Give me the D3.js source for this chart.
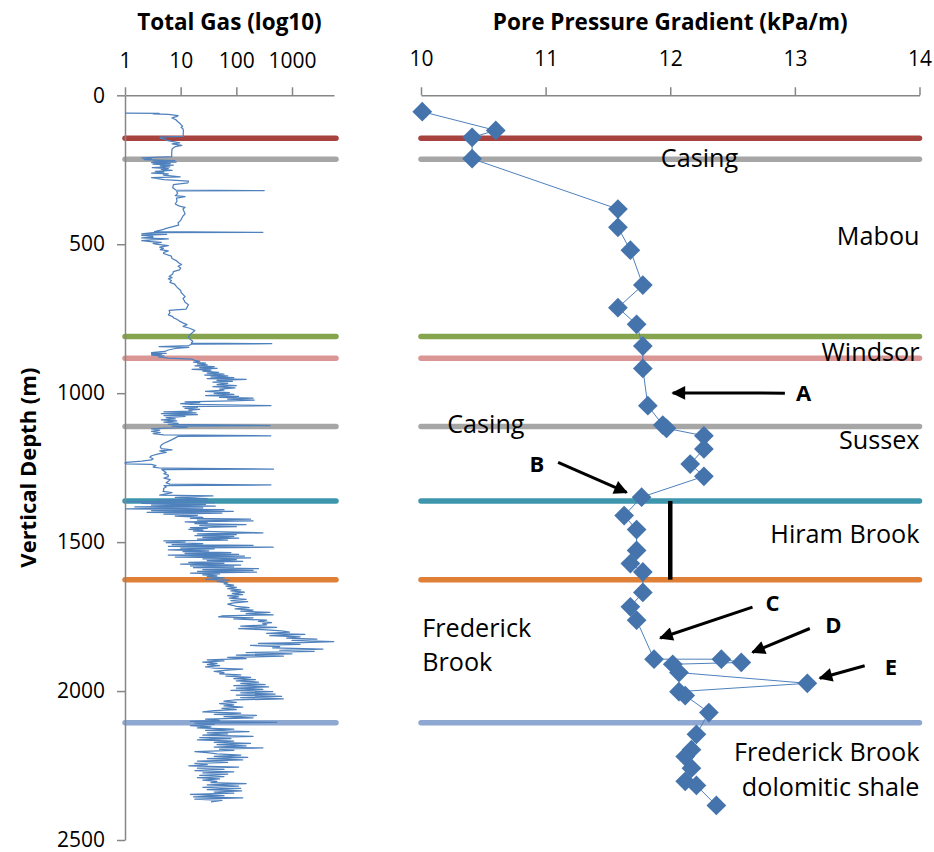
<!DOCTYPE html>
<html>
<head>
<meta charset="utf-8">
<script src="https://cdn.jsdelivr.net/npm/d3@7"></script>
<style>
  body { margin: 0; background: #fff; }
  svg { display: block; }
  text { font-family: "Open Sans", Lato, "Noto Sans", sans-serif; fill: #000; }
</style>
</head>
<body>
<svg id="chart" width="934" height="852"></svg>
<script>
// ---- Data ----------------------------------------------------------------
// Total gas log: [vertical depth (m), total gas (units)]
const gasLog = [
  [60,1.0],[61,4.1],[62,3.2],[64,6.0],[68,9.0],[71,8.6],[76,7.0],[82,8.2],[88,8.8],[94,9.6],
  [100,10.3],[104,10.8],[108,10.2],[112,11.0],[120,11.2],[130,11.1],[138,11.2],[140,4.2],[142,4.8],[145,4.3],
  [147,5.2],[151,5.6],[160,9.6],[163,7.0],[168,10.5],[172,8.0],[180,7.0],[195,6.9],[206,6.9],[210,2.0],
  [213,3.0],[216,2.2],[219,7.9],[221,3.2],[224,8.3],[226,3.0],[229,6.5],[231,3.2],[234,7.4],[237,4.3],
  [240,6.4],[243,3.1],[246,6.0],[249,4.5],[252,7.0],[255,3.5],[258,5.0],[261,3.0],[264,6.0],[268,4.9],
  [274,9.8],[276,3.0],[283,5.0],[288,13.8],[294,13.5],[300,7.4],[310,7.2],[318,8.2],[320,316],[321,9.0],
  [323,8.5],[330,8.8],[337,8.0],[340,12.0],[345,8.4],[355,8.6],[365,8.0],[372,9.5],[376,12.0],[382,11.0],
  [390,11.5],[398,12.0],[405,11.0],[412,10.5],[420,10.0],[428,9.0],[436,9.2],[442,7.0],[447,5.5],[451,4.8],
  [458,3.4],[460,300],[461,3.2],[465,2.0],[467,5.6],[470,2.0],[473,3.1],[476,3.2],[479,2.0],[482,6.0],
  [485,3.0],[488,2.0],[491,2.9],[494,4.5],[497,3.2],[500,3.6],[505,6.0],[510,4.2],[514,4.9],[518,4.3],
  [522,6.0],[527,5.0],[531,4.9],[540,6.8],[548,7.0],[556,8.5],[562,9.2],[568,10.4],[574,9.0],[580,10.0],
  [586,9.5],[592,7.4],[600,7.2],[608,6.2],[612,7.0],[616,6.0],[622,6.8],[628,6.4],[634,7.8],[640,8.2],
  [648,9.0],[655,10.0],[662,10.2],[670,11.2],[676,12.0],[682,11.0],[688,11.5],[695,12.0],[703,13.8],[712,13.0],
  [718,12.5],[722,6.2],[730,6.4],[737,6.0],[742,7.0],[747,7.5],[752,8.5],[758,9.5],[764,11.0],[770,13.0],
  [776,11.0],[782,14.5],[790,18.0],[798,16.0],[805,14.5],[812,13.8],[820,15.0],[826,16.5],[832,15.5],[834,433],
  [835,16.0],[840,14.0],[844,4.1],[846,14.0],[850,8.0],[855,6.0],[860,5.2],[864,3.0],[866,5.5],[868,3.0],
  [870,4.5],[872,3.0],[875,5.0],[878,4.0],[882,6.0],[886,16.0],[890,18.0],[893,22.0],[896,17.0],[899,28.0],
  [902,20.0],[905,30.0],[908,18.0],[911,40.0],[914,22.0],[917,45.0],[920,16.0],[923,35.0],[926,25.0],[930,48.0],
  [933,30.0],[936,60.0],[939,27.0],[942,70.0],[945,35.0],[948,90.0],[951,30.0],[954,150.0],[957,45.0],[960,85.0],
  [963,38.0],[967,70.0],[971,45.0],[975,100.0],[978,38.0],[982,95.0],[986,50.0],[990,60.0],[994,28.0],[998,75.0],
  [1001,40.0],[1004,90.0],[1008,28.0],[1011,110.0],[1014,50.0],[1017,200.0],[1020,70.0],[1023,210.0],[1026,80.0],[1029,12.0],
  [1032,22.0],[1035,10.0],[1038,15.0],[1042,418.0],[1045,11.0],[1048,20.0],[1051,12.0],[1054,22.0],[1057,14.0],[1060,16.0],
  [1063,5.0],[1066,19.0],[1069,4.5],[1072,20.0],[1075,5.0],[1078,12.0],[1082,5.5],[1086,8.0],[1090,4.5],[1093,8.5],
  [1097,5.0],[1101,9.0],[1105,6.0],[1109,405.0],[1111,7.0],[1115,13.0],[1117,5.5],[1120,3.0],[1124,4.2],[1128,3.0],
  [1132,4.3],[1136,3.2],[1140,5.0],[1143,417.0],[1145,9.0],[1150,8.0],[1156,7.0],[1162,6.0],[1168,5.0],[1174,4.5],
  [1180,4.3],[1186,4.5],[1190,7.0],[1194,4.2],[1199,5.5],[1204,4.0],[1210,3.0],[1215,2.8],[1220,3.2],[1224,3.0],
  [1228,2.0],[1232,1.05],[1234,1.0],[1237,1.05],[1239,3.0],[1243,3.6],[1248,3.2],[1252,4.5],[1255,466.0],[1257,4.6],
  [1261,5.0],[1266,5.5],[1270,5.0],[1275,6.0],[1280,6.0],[1285,5.0],[1290,6.5],[1296,6.0],[1301,5.5],[1305,6.4],
  [1308,418.0],[1310,5.0],[1315,5.5],[1320,4.9],[1325,5.0],[1330,4.8],[1334,7.0],[1338,5.5],[1342,4.2],[1345,38.0],
  [1350,8.0],[1354,30.0],[1358,4.0],[1361,30.0],[1364,1.05],[1367,40.0],[1370,2.0],[1373,28.0],[1376,3.0],[1379,42.0],
  [1382,1.5],[1385,25.0],[1388,1.05],[1391,60.0],[1394,3.0],[1397,88.0],[1400,2.5],[1403,55.0],[1406,5.0],[1410,20.0],
  [1413,8.0],[1417,25.0],[1420,15.0],[1423,180.0],[1426,20.0],[1429,200.0],[1432,12.0],[1435,30.0],[1438,18.0],[1441,150.0],
  [1444,22.0],[1448,100.0],[1451,15.0],[1454,30.0],[1457,14.0],[1460,25.0],[1463,17.0],[1466,60.0],[1469,300.0],[1472,20.0],
  [1475,100.0],[1478,18.0],[1481,90.0],[1484,25.0],[1487,110.0],[1490,20.0],[1493,70.0],[1496,5.0],[1499,12.0],[1502,5.5],
  [1505,25.0],[1508,7.0],[1511,200.0],[1514,6.0],[1517,460.0],[1520,10.0],[1523,40.0],[1526,6.0],[1529,32.0],[1532,11.0],
  [1535,80.0],[1538,12.0],[1541,110.0],[1544,6.0],[1547,140.0],[1550,8.0],[1553,180.0],[1556,25.0],[1559,100.0],[1562,30.0],
  [1565,130.0],[1568,14.0],[1571,60.0],[1574,10.0],[1577,120.0],[1580,15.0],[1583,90.0],[1586,17.0],[1589,250.0],[1592,25.0],
  [1595,200.0],[1598,20.0],[1601,230.0],[1604,15.0],[1607,50.0],[1610,25.0],[1613,45.0],[1616,30.0],[1620,60.0],[1625,28.0],
  [1628,75.0],[1632,45.0],[1636,70.0],[1640,60.0],[1644,90.0],[1648,65.0],[1652,100.0],[1656,70.0],[1660,120.0],[1664,80.0],
  [1668,140.0],[1672,85.0],[1676,130.0],[1680,70.0],[1684,110.0],[1688,75.0],[1692,150.0],[1696,80.0],[1700,160.0],[1704,90.0],
  [1708,70.0],[1712,85.0],[1716,100.0],[1720,170.0],[1724,95.0],[1728,200.0],[1732,120.0],[1736,400.0],[1740,150.0],[1744,460.0],
  [1748,55.0],[1751,48.0],[1754,200.0],[1758,90.0],[1762,350.0],[1766,250.0],[1770,430.0],[1774,300.0],[1778,350.0],[1782,120.0],
  [1786,530.0],[1790,110.0],[1794,300.0],[1798,650.0],[1802,900.0],[1806,350.0],[1810,1700.0],[1814,400.0],[1818,1400.0],[1822,800.0],
  [1826,2800.0],[1830,1000.0],[1834,5600.0],[1837,1500.0],[1840,250.0],[1843,1400.0],[1847,180.0],[1851,600.0],[1855,450.0],[1859,3600.0],
  [1863,600.0],[1867,2500.0],[1871,150.0],[1875,1000.0],[1879,100.0],[1883,700.0],[1887,70.0],[1891,150.0],[1895,30.0],[1899,60.0],
  [1903,25.0],[1907,45.0],[1911,30.0],[1915,50.0],[1919,28.0],[1923,40.0],[1926,130.0],[1930,70.0],[1934,40.0],[1938,60.0],
  [1942,50.0],[1946,120.0],[1950,65.0],[1954,180.0],[1958,90.0],[1962,220.0],[1966,100.0],[1970,250.0],[1974,120.0],[1978,330.0],
  [1982,90.0],[1986,380.0],[1990,100.0],[1994,300.0],[1998,80.0],[2002,450.0],[2006,120.0],[2010,500.0],[2014,100.0],[2018,650.0],
  [2022,120.0],[2026,700.0],[2030,90.0],[2034,60.0],[2038,100.0],[2042,50.0],[2046,90.0],[2050,60.0],[2054,130.0],[2058,55.0],
  [2062,100.0],[2066,40.0],[2070,25.0],[2074,120.0],[2078,40.0],[2082,230.0],[2086,60.0],[2090,200.0],[2094,28.0],[2098,50.0],
  [2102,15.0],[2105,530.0],[2108,18.0],[2112,40.0],[2116,15.0],[2120,35.0],[2124,20.0],[2128,90.0],[2132,28.0],[2136,170.0],
  [2140,30.0],[2144,70.0],[2148,25.0],[2152,200.0],[2156,22.0],[2160,80.0],[2164,20.0],[2168,90.0],[2172,40.0],[2176,180.0],
  [2180,45.0],[2184,150.0],[2188,40.0],[2191,300.0],[2195,50.0],[2199,90.0],[2203,18.0],[2207,30.0],[2211,45.0],[2215,120.0],
  [2219,40.0],[2223,160.0],[2227,30.0],[2231,130.0],[2235,20.0],[2239,70.0],[2243,18.0],[2247,30.0],[2251,14.0],[2255,110.0],
  [2259,20.0],[2263,60.0],[2267,18.0],[2271,90.0],[2275,25.0],[2279,70.0],[2283,22.0],[2287,60.0],[2291,20.0],[2295,50.0],
  [2299,25.0],[2303,45.0],[2307,35.0],[2311,150.0],[2315,30.0],[2319,110.0],[2323,25.0],[2327,120.0],[2331,30.0],[2335,125.0],
  [2339,40.0],[2343,90.0],[2347,15.0],[2351,60.0],[2355,17.0],[2359,130.0],[2363,18.0],[2367,55.0],[2372,35.0]
];

// Pore pressure gradient estimates
const ppDepth    = [55, 118, 141, 213, 382, 443, 520, 637, 713, 769, 842, 917, 1042, 1107, 1118, 1143, 1187, 1238, 1279, 1349,
                    1411, 1458, 1528, 1572, 1600, 1669, 1717, 1762, 1893, 1893, 1904, 1910, 1938, 1974, 2002, 2015, 2072, 2145,
                    2197, 2220, 2259, 2303, 2317, 2384];
const ppGradient = [10.01, 10.60, 10.41, 10.41, 11.58, 11.58, 11.68, 11.78, 11.58, 11.73, 11.78, 11.78, 11.82, 11.94, 11.97, 12.27, 12.27, 12.16, 12.27, 11.77,
                    11.63, 11.73, 11.73, 11.68, 11.78, 11.78, 11.68, 11.73, 11.87, 12.41, 12.57, 12.02, 12.07, 13.10, 12.07, 12.12, 12.31, 12.21,
                    12.17, 12.12, 12.17, 12.12, 12.21, 12.37];

// Formation / casing tops (m)
const topDepths = [144, 215, 810, 883, 1112, 1362, 1626, 2106];

// Axis ticks
const gasTicks = [1, 10, 100, 1000];
const ppTicks = [10, 11, 12, 13, 14];
const depthTicks = [0, 500, 1000, 1500, 2000, 2500];

// Zone labels on the gradient track
const zoneNames = ["Casing", "Mabou", "Windsor", "Casing", "Sussex", "Hiram Brook",
                   "Frederick", "Brook", "Frederick Brook", "dolomitic shale"];
// Callout letters
const calloutNames = ["A", "B", "C", "D", "E"];
// Hiram Brook reference gradient (kPa/m)
const hiramGradient = 12.0;

// ---- Layout & style --------------------------------------------------------
const topColors = ["#A8423F", "#A6A6A6", "#86A34D", "#D99694", "#A6A6A6", "#3E96AD", "#E07F36", "#8EA8D2"];
const axisColor = "#868686";
const seriesColor = "#4F81BD";
const markerColor = "#4573AC";

// label anchors in data units: [gradient, depth, text-anchor]
const zoneAnchors = [[12.545, 240, "end"], [14, 502, "end"], [14, 891, "end"], [10.21, 1135, "start"],
                     [14, 1187, "end"], [14, 1503, "end"], [10.01, 1817, "start"], [10.01, 1931, "start"],
                     [14, 2236, "end"], [14, 2353, "end"]];
// callouts: letter centre [g, d], arrow tail [g, d], arrow tip [g, d]
const calloutGeom = [
  [[13.07, 1000], [12.92, 1000], [12.02, 999]],
  [[10.93, 1238], [11.10, 1232], [11.65, 1333]],
  [[12.82, 1703], [12.66, 1718], [11.92, 1822]],
  [[13.31, 1777], [13.12, 1790], [12.66, 1870]],
  [[13.77, 1921], [13.56, 1915], [13.20, 1957]]
];

const svg = d3.select("#chart");
const defs = svg.append("defs");
defs.append("marker")
  .attr("id", "arrowHead")
  .attr("viewBox", "0 0 10 10")
  .attr("refX", 9).attr("refY", 5)
  .attr("markerWidth", 5.2).attr("markerHeight", 4.6)
  .attr("markerUnits", "strokeWidth")
  .attr("orient", "auto")
  .append("path").attr("d", "M0,0 L10,5 L0,10 Z").attr("fill", "#000");

// Scales
const y = d3.scaleLinear().domain([0, 2500]).range([95.3, 840]);
const xGas = d3.scaleLog().domain([1, 5680]).range([125, 334]);
const xPP = d3.scaleLinear().domain([10, 14]).range([421, 919.5]);

// ---- Formation lines -------------------------------------------------------
const tops = svg.append("g");
topDepths.forEach((d, i) => {
  tops.append("line")
    .attr("x1", xGas.range()[0]).attr("x2", xGas.range()[1] + 2)
    .attr("y1", y(d)).attr("y2", y(d))
    .attr("stroke", topColors[i]).attr("stroke-width", 5.5).attr("stroke-linecap", "round");
  tops.append("line")
    .attr("x1", xPP.range()[0]).attr("x2", xPP.range()[1])
    .attr("y1", y(d)).attr("y2", y(d))
    .attr("stroke", topColors[i]).attr("stroke-width", 5.5).attr("stroke-linecap", "round");
});

// ---- Axes ------------------------------------------------------------------
function styleAxis(g, size) {
  g.select(".domain").attr("stroke", axisColor).attr("stroke-width", 1.5);
  g.selectAll(".tick line").attr("stroke", axisColor).attr("stroke-width", 1.5);
  g.selectAll(".tick text").attr("font-size", size).attr("fill", "#000")
    .attr("font-family", "'Open Sans', Lato, sans-serif");
}

const gasAxis = svg.append("g").attr("transform", `translate(0,${y(0)})`)
  .call(d3.axisTop(xGas).tickValues(gasTicks).tickFormat(d3.format("d"))
        .tickSize(8).tickSizeOuter(0).tickPadding(19));
styleAxis(gasAxis, 21);

const ppAxis = svg.append("g").attr("transform", `translate(0,${y(0)})`)
  .call(d3.axisTop(xPP).tickValues(ppTicks).tickFormat(d3.format("d"))
        .tickSize(8).tickSizeOuter(0).tickPadding(21));
styleAxis(ppAxis, 21);

const depthAxis = svg.append("g").attr("transform", `translate(${xGas.range()[0]},0)`)
  .call(d3.axisLeft(y).tickValues(depthTicks).tickFormat(d3.format("d"))
        .tickSize(8).tickSizeOuter(0).tickPadding(12));
styleAxis(depthAxis, 21);

// Titles
svg.append("text").attr("x", (xGas.range()[0] + xGas.range()[1]) / 2).attr("y", 30)
  .attr("text-anchor", "middle").attr("font-size", 22.5).attr("font-weight", "bold")
  .text("Total Gas (log10)");
svg.append("text").attr("x", (xPP.range()[0] + xPP.range()[1]) / 2).attr("y", 30)
  .attr("text-anchor", "middle").attr("font-size", 22.5).attr("font-weight", "bold")
  .text("Pore Pressure Gradient (kPa/m)");
svg.append("text")
  .attr("transform", `translate(36,${y(1250)}) rotate(-90)`)
  .attr("text-anchor", "middle").attr("font-size", 22).attr("font-weight", "bold")
  .text("Vertical Depth (m)");

// ---- Total gas log ---------------------------------------------------------
svg.append("path")
  .datum(gasLog)
  .attr("fill", "none").attr("stroke", seriesColor).attr("stroke-width", 1.25)
  .attr("stroke-linejoin", "round")
  .attr("d", d3.line().x(d => xGas(d[1])).y(d => y(d[0])));

// ---- Pore pressure gradient ------------------------------------------------
const ppData = ppDepth.map((d, i) => ({ depth: d, g: ppGradient[i] }));

// Hiram Brook reference bar
svg.append("line")
  .attr("x1", xPP(hiramGradient)).attr("x2", xPP(hiramGradient))
  .attr("y1", y(topDepths[5])).attr("y2", y(topDepths[6]))
  .attr("stroke", "#000").attr("stroke-width", 4.5);

// Zone labels
const labels = svg.append("g").attr("font-size", 25.2);
zoneNames.forEach((t, i) => {
  const a = zoneAnchors[i];
  labels.append("text").attr("x", xPP(a[0])).attr("y", y(a[1]))
    .attr("text-anchor", a[2]).text(t);
});

svg.append("path")
  .datum(ppData)
  .attr("fill", "none").attr("stroke", seriesColor).attr("stroke-width", 1)
  .attr("d", d3.line().x(d => xPP(d.g)).y(d => y(d.depth)));

const diamond = d3.symbol().type(d3.symbolSquare).size(195);
svg.append("g").selectAll("path").data(ppData).join("path")
  .attr("transform", d => `translate(${xPP(d.g)},${y(d.depth)}) rotate(45)`)
  .attr("d", diamond)
  .attr("fill", markerColor);

// ---- Callouts ---------------------------------------------------------------
const callouts = svg.append("g");
calloutNames.forEach((t, i) => {
  const [c, tail, tip] = calloutGeom[i];
  callouts.append("line")
    .attr("x1", xPP(tail[0])).attr("y1", y(tail[1]))
    .attr("x2", xPP(tip[0])).attr("y2", y(tip[1]))
    .attr("stroke", "#000").attr("stroke-width", 3)
    .attr("marker-end", "url(#arrowHead)");
  callouts.append("text").attr("x", xPP(c[0])).attr("y", y(c[1]))
    .attr("dy", "0.36em").attr("text-anchor", "middle")
    .attr("font-size", 22).attr("font-weight", "bold").text(t);
});
</script>
</body>
</html>
